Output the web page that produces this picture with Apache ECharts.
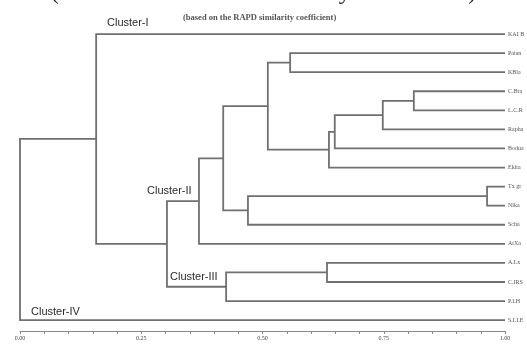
<!DOCTYPE html>
<html>
<head>
<meta charset="utf-8">
<script src="https://cdn.jsdelivr.net/npm/echarts@6/dist/echarts.min.js"></script>
<style>
html,body{margin:0;padding:0;background:#fff;}
#c{width:527px;height:345px;}
</style>
</head>
<body>
<div id="c"></div>
<script>
// Leaf names (top to bottom)
const leaves = ["KAI B","Patan","KBla","C.Bra","L.C.R","Rapha","Bodua","Ekita","Tx gr","Nika","Scha","AtXa","A.I.x","C.IRS","P.I.H","S.I.I.E"];
// Merges (linkage): ids 0..15 are leaves, merge k creates node 16+k
const mergeLeft   = [3, 16, 17, 18, 1, 20, 8, 22, 21, 24, 12, 26, 25, 0, 29];
const mergeRight  = [4, 5, 6, 7, 2, 19, 9, 10, 23, 11, 13, 14, 27, 28, 15];
const mergeHeight = [0.812, 0.748, 0.649, 0.637, 0.557, 0.511, 0.963, 0.470, 0.419, 0.369, 0.633, 0.425, 0.303, 0.157, 0.000];
// Axis
const tickLabels = ["0.00", "0.25", "0.50", "0.75", "1.00"];
const tickValues = [0, 0.25, 0.5, 0.75, 1.0];
const clusterNames = ["Cluster-I", "Cluster-II", "Cluster-III", "Cluster-IV"];

const nodeX = [], nodeY = [];
leaves.forEach((n, i) => { nodeX.push(1.0); nodeY.push(i); });
const segData = [];
mergeHeight.forEach((h, k) => {
  const a = mergeLeft[k], b = mergeRight[k];
  segData.push([nodeX[a], nodeY[a], h, nodeY[b], nodeX[b]]);
  nodeX.push(h);
  nodeY.push((nodeY[a] + nodeY[b]) / 2);
});
const leafData = leaves.map((n, i) => [1.0, i, n]);

const chart = echarts.init(document.getElementById('c'), null, {renderer: 'canvas'});
chart.setOption({
  animation: false,
  backgroundColor: '#ffffff',
  grid: {left: 20, right: 22, top: 24.5, bottom: 14, containLabel: false, outerBoundsMode: 'none'},
  xAxis: {
    type: 'value', min: 0, max: 1, interval: 0.05,
    name: 'Coefficient', nameLocation: 'middle', nameGap: 12,
    nameTextStyle: {fontFamily: 'Liberation Serif', fontSize: 6, color: '#555'},
    axisLine: {show: true, onZero: false, lineStyle: {color: '#8a8a8a', width: 1}},
    axisTick: {show: true, length: 3, lineStyle: {color: '#8a8a8a'}},
    splitLine: {show: false},
    axisLabel: {
      margin: 4, fontFamily: 'Liberation Serif', fontSize: 6, color: '#444',
      formatter: function (v) {
        for (let i = 0; i < tickValues.length; i++) {
          if (Math.abs(v - tickValues[i]) < 1e-6) return tickLabels[i];
        }
        return '';
      }
    }
  },
  yAxis: {
    type: 'value', min: -0.5, max: 15.57, inverse: true,
    show: false
  },
  series: [
    {
      type: 'custom',
      coordinateSystem: 'cartesian2d',
      encode: {x: [0, 2, 4], y: [1, 3]},
      data: segData,
      renderItem: function (params, api) {
        const p1 = api.coord([api.value(0), api.value(1)]);
        const p2 = api.coord([api.value(2), api.value(1)]);
        const p3 = api.coord([api.value(2), api.value(3)]);
        const p4 = api.coord([api.value(4), api.value(3)]);
        return {
          type: 'polyline',
          shape: {points: [p1, p2, p3, p4]},
          style: {stroke: '#707070', lineWidth: 1.8, fill: null}
        };
      }
    },
    {
      type: 'custom',
      coordinateSystem: 'cartesian2d',
      encode: {x: 0, y: 1},
      data: leafData,
      renderItem: function (params, api) {
        const p = api.coord([api.value(0), api.value(1)]);
        return {
          type: 'text',
          x: p[0] + 3, y: p[1],
          style: {
            text: leaves[params.dataIndex],
            fontFamily: 'Liberation Serif', fontSize: 6, fill: '#555',
            verticalAlign: 'middle', align: 'left'
          }
        };
      }
    }
  ],
  graphic: [
    {type: 'text', left: 'center', top: -19,
     style: {text: '(Based on the RAPD similarity coefficients)', fontFamily: 'Liberation Serif', fontSize: 24, fill: '#222'}},
    {type: 'text', x: 183, y: 13,
     style: {text: '(based on the RAPD similarity coefficient)', fontFamily: 'Liberation Serif', fontSize: 8.5, fontWeight: 'bold', fill: '#555'}},
    {type: 'text', x: 107, y: 17,
     style: {text: clusterNames[0], fontFamily: 'Liberation Sans', fontSize: 11, fill: '#2a2a2a'}},
    {type: 'text', x: 147, y: 185,
     style: {text: clusterNames[1], fontFamily: 'Liberation Sans', fontSize: 11, fill: '#2a2a2a'}},
    {type: 'text', x: 170, y: 271,
     style: {text: clusterNames[2], fontFamily: 'Liberation Sans', fontSize: 11, fill: '#2a2a2a'}},
    {type: 'text', x: 31, y: 306,
     style: {text: clusterNames[3], fontFamily: 'Liberation Sans', fontSize: 11, fill: '#2a2a2a'}}
  ]
});
</script>
</body>
</html>
